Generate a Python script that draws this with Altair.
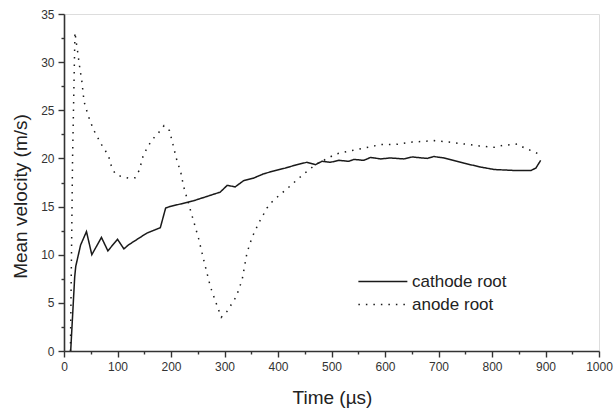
import altair as alt
import pandas as pd

cathode_t = [12.5, 20, 22, 31, 42, 52, 70, 82, 100, 112, 120, 155, 180, 190, 198, 242, 292, 305,
             320, 336, 354, 373, 392, 414, 432, 454, 470, 482, 498, 514, 532, 542, 560, 573, 592,
             610, 635, 651, 679, 691, 710, 748, 779, 804, 841, 873, 882, 891]
cathode_v = [0, 7.7, 8.8, 11.0, 12.4, 10.0, 11.8, 10.4, 11.6, 10.6, 11.0, 12.25, 12.8, 14.85, 15.0,
             15.6, 16.5, 17.2, 17.05, 17.7, 17.95, 18.4, 18.7, 19.0, 19.3, 19.6, 19.35, 19.7, 19.6,
             19.8, 19.7, 19.9, 19.8, 20.1, 19.95, 20.05, 19.95, 20.15, 20.0, 20.2, 20.05, 19.5,
             19.1, 18.85, 18.75, 18.75, 19.0, 19.8]

anode_t = [12, 16, 20.5, 22.5, 25, 30, 33, 37.5, 45.5, 55, 70.5, 83, 88, 95.5, 108, 120.5, 133, 141,
           148.5, 164, 176.5, 187, 197, 203, 210, 218.5, 223.5, 236, 251.5, 261, 273.5, 284.5, 294,
           304.5, 322, 333, 342, 351.5, 364, 379.5, 389, 403, 416, 440, 453, 470, 494, 507.5, 535.5,
           563.5, 592, 620, 651, 691.5, 719.5, 748, 776, 804, 820, 848, 860, 876, 889.5]
anode_v = [0, 20, 33.1, 32.2, 31.3, 29.2, 28.2, 25.9, 24.4, 23.0, 21.4, 20.3, 19.3, 18.4, 18.1, 17.95,
           18.0, 18.8, 20.4, 21.9, 22.65, 23.4, 22.9, 21.6, 20.0, 18.5, 17.1, 14.7, 11.7, 9.5, 6.7,
           4.96, 3.5, 4.1, 5.65, 7.4, 10.2, 11.8, 13.3, 14.85, 15.5, 16.2, 16.8, 18.0, 18.6, 19.35,
           20.05, 20.45, 20.8, 21.1, 21.45, 21.45, 21.7, 21.85, 21.7, 21.5, 21.3, 21.15, 21.35, 21.5,
           21.1, 20.75, 20.4]

series_names = ["cathode root", "anode root"]
x_ticks = list(range(0, 1001, 50))
y_ticks = [i * 2.5 for i in range(15)]

rows = []
for i, (t, v) in enumerate(zip(cathode_t, cathode_v)):
    rows.append({"series": series_names[0], "t": t, "v": v, "order": i})
for i, (t, v) in enumerate(zip(anode_t, anode_v)):
    rows.append({"series": series_names[1], "t": t, "v": v, "order": i})
df = pd.DataFrame(rows)

FONT = "Liberation Sans"
AX = "#333333"

x_axis = alt.Axis(
    values=x_ticks, format="d",
    labelExpr="datum.value % 100 === 0 ? datum.label : ''",
    tickSize={"condition": {"test": "datum.value % 100 !== 0", "value": 3}, "value": 6},
    grid=False, domainColor=AX, domainWidth=1.6, tickColor=AX, tickWidth=1.4,
    labelFont=FONT, labelFontSize=12, labelColor="#333333", labelPadding=4,
    labelFlush=False, labelOverlap=False,
    title="Time (µs)", titleFont=FONT, titleFontSize=19, titleFontWeight="normal",
    titleColor="#222222", titleX=268, titleY=37,
)
y_axis = alt.Axis(
    values=y_ticks,
    labelExpr="datum.value % 5 === 0 ? datum.label : ''",
    tickSize={"condition": {"test": "datum.value % 5 !== 0", "value": 3}, "value": 6},
    grid=False, domainColor=AX, domainWidth=1.6, tickColor=AX, tickWidth=1.4,
    labelFont=FONT, labelFontSize=12, labelColor="#333333", labelPadding=4,
    labelFlush=False, labelOverlap=False,
    title="Mean velocity (m/s)", titleFont=FONT, titleFontSize=19, titleFontWeight="normal",
    titleColor="#222222", titleX=-34, titleY=182,
)

legend = alt.Legend(
    title=None, orient="none", legendX=292, legendY=259, padding=0,
    symbolType="M-1,0H7", symbolSize=150, symbolStrokeWidth=1.5,
    labelFont=FONT, labelFontSize=17, labelColor="#222222", labelOffset=39,
    rowPadding=5,
)

chart = alt.Chart(df).mark_line(strokeWidth=1.5).encode(
    x=alt.X("t:Q", scale=alt.Scale(domain=[0, 1000], nice=False), axis=x_axis),
    y=alt.Y("v:Q", scale=alt.Scale(domain=[0, 35], nice=False), axis=y_axis),
    color=alt.Color("series:N", scale=alt.Scale(domain=series_names, range=["#1a1a1a", "#1a1a1a"]),
                    legend=legend),
    strokeDash=alt.StrokeDash("series:N", scale=alt.Scale(domain=series_names, range=[[1, 0], [1.5, 6]]),
                              legend=legend),
    order="order:Q",
).properties(
    width=535, height=337,
    autosize=alt.AutoSizeParams(type="none"),
    padding={"left": 64, "top": 14, "right": 15, "bottom": 58},
).configure_view(stroke=None).configure(background="white")

chart.save("out.html", embed_options={"renderer": "svg", "actions": False})
